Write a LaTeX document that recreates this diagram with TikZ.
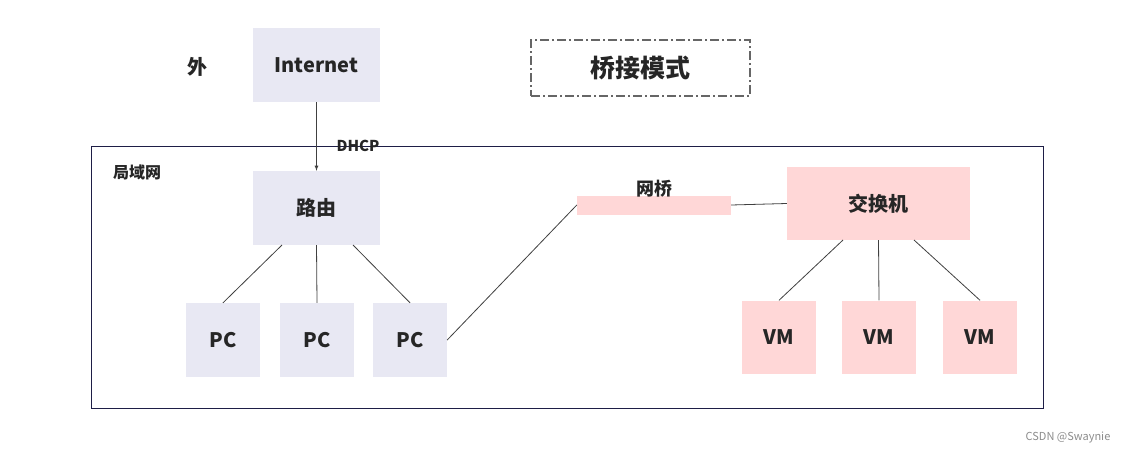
\documentclass[tikz,border=0pt]{standalone}
\usepackage{fontspec}
\setmainfont{Noto Sans CJK SC}
\begin{document}
\begin{tikzpicture}[x=1pt,y=-1pt,
  lav/.style={fill={rgb,255:red,232;green,232;blue,243},draw=none},
  pk/.style={fill={rgb,255:red,255;green,215;blue,215},draw=none},
  lbl/.style={font=\fontsize{20}{24}\selectfont\bfseries,text=black!85},
  conn/.style={draw=black!75,line width=0.8pt}]
\useasboundingbox (0,0) rectangle (1123,455);
\fill[white] (0,0) rectangle (1123,455);
\draw[draw={rgb,255:red,30;green,30;blue,70},line width=0.9pt] (91,146) rectangle (1043,408);
\node[lbl,font=\fontsize{16}{20}\selectfont\bfseries] (lan) at (137,172) {局域网};
\node[lbl] (wai) at (197,67) {外};
\node[lav,lbl,minimum width=127pt,minimum height=74pt] (inet) at (316.5,65) {Internet};
\node[draw=black!60,dash pattern=on 9pt off 3pt on 2pt off 3pt,line width=1.2pt,lbl,font=\fontsize{25}{30}\selectfont\bfseries,minimum width=219pt,minimum height=56pt] (mode) at (640.5,68) {桥接模式};
\node[lav,lbl,minimum width=127pt,minimum height=74pt] (r) at (316.5,208) {路由};
\draw[conn,-latex] (inet.south) -- (r.north);
\node[lbl,font=\fontsize{15}{18}\selectfont\bfseries] (dhcp) at (358,146) {DHCP};
\foreach \i/\x in {1/223,2/317,3/410}{
  \node[lav,lbl,minimum width=74pt,minimum height=74pt] (pc\i) at (\x,340) {PC};}
\draw[conn] (282,245) -- (pc1.north);
\draw[conn] (r.south) -- (pc2.north);
\draw[conn] (353,245) -- (pc3.north);
\node[pk,minimum width=154pt,minimum height=19pt,inner sep=0pt] (br) at (654,205) {};
\node[lbl,font=\fontsize{18}{22}\selectfont\bfseries] (brl) at (654,189) {网桥};
\draw[conn] (pc3.east) -- (br.west);
\node[pk,lbl,minimum width=183pt,minimum height=73pt] (sw) at (878.5,203.5) {交换机};
\draw[conn] (br.east) -- (sw.west);
\foreach \i/\x in {1/779,2/879,3/980}{
  \node[pk,lbl,minimum width=74pt,minimum height=73pt] (vm\i) at (\x,337) {VM};}
\draw[conn] (843,240) -- (vm1.north);
\draw[conn] (sw.south) -- (vm2.north);
\draw[conn] (914,240) -- (vm3.north);
\node[text=black!45,font=\fontsize{11}{13}\selectfont] (csdn) at (1068,438) {CSDN @Swaynie};
\end{tikzpicture}
\end{document}
